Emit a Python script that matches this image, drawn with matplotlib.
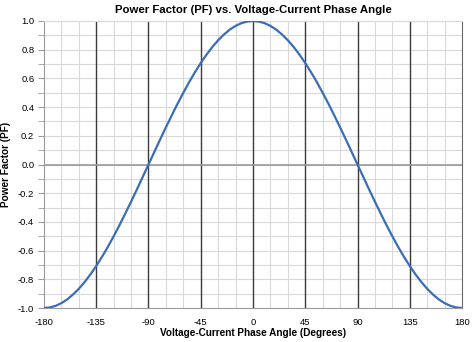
import matplotlib
matplotlib.use("Agg")
import matplotlib.pyplot as plt
from matplotlib.ticker import MultipleLocator

plt.rcParams['font.family'] = ['Liberation Sans', 'DejaVu Sans']

# phase angle (degrees) and power factor, every 5 deg
angle = [-180, -175, -170, -165, -160, -155, -150, -145, -140, -135,
         -130, -125, -120, -115, -110, -105, -100, -95, -90,
         -85, -80, -75, -70, -65, -60, -55, -50, -45,
         -40, -35, -30, -25, -20, -15, -10, -5, 0,
         5, 10, 15, 20, 25, 30, 35, 40, 45,
         50, 55, 60, 65, 70, 75, 80, 85, 90,
         95, 100, 105, 110, 115, 120, 125, 130, 135,
         140, 145, 150, 155, 160, 165, 170, 175, 180]
pf = [-1.0, -0.996, -0.985, -0.966, -0.940, -0.906, -0.866, -0.819, -0.766, -0.707,
      -0.643, -0.574, -0.500, -0.423, -0.342, -0.259, -0.174, -0.087, 0.0,
      0.087, 0.174, 0.259, 0.342, 0.423, 0.500, 0.574, 0.643, 0.707,
      0.766, 0.819, 0.866, 0.906, 0.940, 0.966, 0.985, 0.996, 1.0,
      0.996, 0.985, 0.966, 0.940, 0.906, 0.866, 0.819, 0.766, 0.707,
      0.643, 0.574, 0.500, 0.423, 0.342, 0.259, 0.174, 0.087, 0.0,
      -0.087, -0.174, -0.259, -0.342, -0.423, -0.500, -0.574, -0.643, -0.707,
      -0.766, -0.819, -0.866, -0.906, -0.940, -0.966, -0.985, -0.996, -1.0]
xticks = [-180, -135, -90, -45, 0, 45, 90, 135, 180]
yticks = [-1.0, -0.8, -0.6, -0.4, -0.2, 0.0, 0.2, 0.4, 0.6, 0.8, 1.0]

fig = plt.figure(figsize=(4.74, 3.42), dpi=100)
ax = fig.add_axes([0.0928, 0.0994, 0.8819, 0.8392])

ax.set_xlim(-180, 180)
ax.set_ylim(-1, 1)

# light grid every 15 deg / 0.1
ax.xaxis.set_minor_locator(MultipleLocator(15))
ax.yaxis.set_minor_locator(MultipleLocator(0.1))
ax.grid(which='minor', color='#d9d9d9', lw=0.8)
ax.grid(which='major', axis='y', color='#d9d9d9', lw=0.8)
ax.set_axisbelow(True)

# dark verticals every 45 deg
for xv in xticks[1:-1]:
    ax.axvline(xv, color='#3a3a3a', lw=1.0, zorder=1)
ax.axhline(0, color='#9a9a9a', lw=1.2, zorder=1)

ax.plot(angle, pf, color='#3a6db5', lw=1.6, zorder=3)

ax.set_xticks(xticks)
ax.set_xticklabels([str(v) for v in xticks])
ax.set_yticks(yticks)
ax.set_yticklabels(['%.1f' % v for v in yticks])
ax.tick_params(axis='x', which='both', length=0, labelsize=6.8, pad=7)
ax.tick_params(axis='y', which='major', length=4, color='#9a9a9a', labelsize=6.8, pad=3)
ax.tick_params(axis='y', which='minor', length=4, color='#9a9a9a')

for side in ['left', 'bottom']:
    ax.spines[side].set_color('#9a9a9a')
ax.spines['top'].set_color('#d9d9d9')
ax.spines['right'].set_color('#6a6a6a')

ax.set_title('Power Factor (PF) vs. Voltage-Current Phase Angle',
             fontsize=8.2, fontweight='bold', pad=6)
ax.set_xlabel('Voltage-Current Phase Angle (Degrees)', fontsize=7.2,
              fontweight='bold', labelpad=1)
ax.set_ylabel('Power Factor (PF)', fontsize=7.2, fontweight='bold')
ax.yaxis.set_label_coords(-0.079, 0.5)

fig.savefig('out.png', dpi=100)
